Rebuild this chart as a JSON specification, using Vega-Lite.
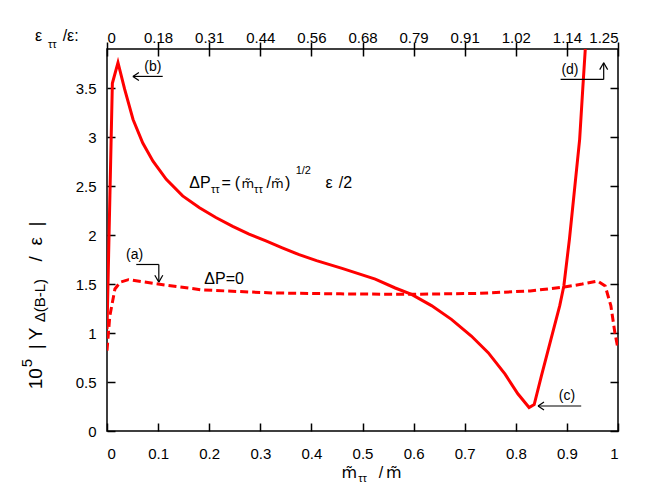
{
  "$schema": "https://vega.github.io/schema/vega-lite/v6.json",
  "width": 511,
  "height": 382,
  "autosize": {"type": "none"},
  "padding": {"left": 107, "top": 49, "right": 36, "bottom": 60},
  "background": "white",
  "config": {
    "view": {"stroke": "black", "strokeWidth": 1.5},
    "font": "Liberation Sans",
    "axis": {"grid": false, "domain": false, "tickColor": "black", "tickWidth": 1.5, "labelColor": "black", "labelFont": "Liberation Sans", "labelFontSize": 15, "title": null}
  },
  "datasets": {
    "dashed": [
      {"x": 0, "y": 0.82}, {"x": 0.0054, "y": 1.17}, {"x": 0.0155, "y": 1.45}, {"x": 0.026, "y": 1.52},
      {"x": 0.042, "y": 1.545}, {"x": 0.1, "y": 1.5}, {"x": 0.187, "y": 1.44}, {"x": 0.322, "y": 1.41},
      {"x": 0.457, "y": 1.4}, {"x": 0.592, "y": 1.395}, {"x": 0.727, "y": 1.405}, {"x": 0.828, "y": 1.43},
      {"x": 0.895, "y": 1.47}, {"x": 0.93, "y": 1.5}, {"x": 0.96, "y": 1.53}, {"x": 0.975, "y": 1.48},
      {"x": 0.986, "y": 1.28}, {"x": 0.994, "y": 1.0}, {"x": 1.0, "y": 0.84}
    ],
    "solid": [
      {"x": 0, "y": 1.04}, {"x": 0.0105, "y": 3.55}, {"x": 0.0215, "y": 3.76}, {"x": 0.0345, "y": 3.49},
      {"x": 0.051, "y": 3.18}, {"x": 0.07, "y": 2.94}, {"x": 0.09, "y": 2.755}, {"x": 0.116, "y": 2.57},
      {"x": 0.148, "y": 2.4}, {"x": 0.181, "y": 2.28}, {"x": 0.213, "y": 2.18}, {"x": 0.246, "y": 2.09},
      {"x": 0.278, "y": 2.01}, {"x": 0.311, "y": 1.94}, {"x": 0.343, "y": 1.87}, {"x": 0.376, "y": 1.8},
      {"x": 0.41, "y": 1.74}, {"x": 0.46, "y": 1.66}, {"x": 0.525, "y": 1.55}, {"x": 0.564, "y": 1.46},
      {"x": 0.596, "y": 1.395}, {"x": 0.635, "y": 1.28}, {"x": 0.674, "y": 1.14}, {"x": 0.713, "y": 0.97},
      {"x": 0.746, "y": 0.8}, {"x": 0.779, "y": 0.58}, {"x": 0.804, "y": 0.38}, {"x": 0.826, "y": 0.24},
      {"x": 0.836, "y": 0.27}, {"x": 0.85, "y": 0.56}, {"x": 0.869, "y": 0.94}, {"x": 0.886, "y": 1.28},
      {"x": 0.894, "y": 1.48}, {"x": 0.905, "y": 1.96}, {"x": 0.915, "y": 2.47}, {"x": 0.925, "y": 2.98},
      {"x": 0.931, "y": 3.49}, {"x": 0.936, "y": 3.9}, {"x": 0.9375, "y": 4.05}
    ],
    "arrows": [
      {"g": "b", "x": 0.0507, "y": 3.62}, {"g": "b", "x": 0.109, "y": 3.62},
      {"g": "b1", "x": 0.0507, "y": 3.62}, {"g": "b1", "x": 0.0624, "y": 3.661},
      {"g": "b2", "x": 0.0507, "y": 3.62}, {"g": "b2", "x": 0.0624, "y": 3.579},
      {"g": "a", "x": 0.0573, "y": 1.7}, {"g": "a", "x": 0.1014, "y": 1.7},
      {"g": "av", "x": 0.1014, "y": 1.7}, {"g": "av", "x": 0.1014, "y": 1.52},
      {"g": "a1", "x": 0.1014, "y": 1.52}, {"g": "a1", "x": 0.0936, "y": 1.59},
      {"g": "a2", "x": 0.1014, "y": 1.52}, {"g": "a2", "x": 0.1092, "y": 1.59},
      {"g": "c", "x": 0.8435, "y": 0.255}, {"g": "c", "x": 0.928, "y": 0.255},
      {"g": "c1", "x": 0.8435, "y": 0.255}, {"g": "c1", "x": 0.8552, "y": 0.296},
      {"g": "c2", "x": 0.8435, "y": 0.255}, {"g": "c2", "x": 0.8552, "y": 0.214},
      {"g": "d", "x": 0.8877, "y": 3.589}, {"g": "d", "x": 0.972, "y": 3.589},
      {"g": "dv", "x": 0.972, "y": 3.589}, {"g": "dv", "x": 0.972, "y": 3.759},
      {"g": "d1", "x": 0.972, "y": 3.759}, {"g": "d1", "x": 0.9642, "y": 3.689},
      {"g": "d2", "x": 0.972, "y": 3.759}, {"g": "d2", "x": 0.9798, "y": 3.689}
    ],
    "tags": [
      {"x": 0.054, "y": 1.8, "t": "(a)"}, {"x": 0.0897, "y": 3.72, "t": "(b)"},
      {"x": 0.9, "y": 0.357, "t": "(c)"}, {"x": 0.906, "y": 3.684, "t": "(d)"}
    ],
    "textMain": [
      {"x": 0.1904, "y": 1.497, "t": "ΔP=0"},
      {"x": 0.1612, "y": 2.484, "t": "ΔP"},
      {"x": 0.2242, "y": 2.484, "t": "="},
      {"x": 0.2499, "y": 2.484, "t": "("},
      {"x": 0.3119, "y": 2.484, "t": "/"},
      {"x": 0.3482, "y": 2.484, "t": ")"},
      {"x": 0.4277, "y": 2.484, "t": "ε"},
      {"x": 0.4536, "y": 2.484, "t": "/2"},
      {"x": -0.141, "y": 3.98, "t": "ε"},
      {"x": -0.0868, "y": 3.98, "t": "/ε:"},
      {"x": 0.5316, "y": -0.483, "t": "/"}
    ],
    "textSmall": [
      {"x": 0.2035, "y": 2.433, "t": "ττ"},
      {"x": 0.2879, "y": 2.433, "t": "ττ"},
      {"x": 0.3692, "y": 2.619, "t": "1/2"},
      {"x": -0.1156, "y": 3.915, "t": "ττ"},
      {"x": 0.4916, "y": -0.52, "t": "ττ"}
    ],
    "mFormula": [
      {"x": 0.2631, "y": 2.484, "t": "m̃"},
      {"x": 0.321, "y": 2.484, "t": "m̃"}
    ],
    "mTitle": [
      {"x": 0.4589, "y": -0.483, "t": "m̃"},
      {"x": 0.5462, "y": -0.483, "t": "m̃"}
    ],
    "yTitleMain": [
      {"x": -0.1273, "y": 0.425, "t": "10"},
      {"x": -0.1273, "y": 0.834, "t": "|"},
      {"x": -0.1273, "y": 0.9255, "t": "Y"},
      {"x": -0.1273, "y": 1.731, "t": "/"},
      {"x": -0.1273, "y": 1.895, "t": "ε"},
      {"x": -0.1273, "y": 2.089, "t": "|"}
    ],
    "yTitleSmall": [
      {"x": -0.1468, "y": 0.65, "t": "5"},
      {"x": -0.1214, "y": 1.109, "t": "Δ(B-L)"}
    ]
  },
  "resolve": {"axis": {"x": "independent", "y": "independent"}},
  "layer": [
    {
      "data": {"name": "dashed"},
      "mark": {"type": "line", "color": "#ff0000", "strokeWidth": 3, "strokeDash": [8, 4], "clip": true},
      "encoding": {
        "x": {"field": "x", "type": "quantitative", "scale": {"domain": [0, 1], "nice": false, "zero": false},
          "axis": {"orient": "bottom", "values": [0, 0.1, 0.2, 0.3, 0.4, 0.5, 0.6, 0.7, 0.8, 0.9, 1], "format": "~g", "tickSize": -8, "labelPadding": 23}},
        "y": {"field": "y", "type": "quantitative", "scale": {"domain": [0, 3.9], "nice": false, "zero": false},
          "axis": {"orient": "left", "values": [0, 0.5, 1, 1.5, 2, 2.5, 3, 3.5], "format": "~g", "tickSize": -8, "labelPadding": 19}}
      }
    },
    {
      "data": {"name": "solid"},
      "mark": {"type": "line", "color": "#ff0000", "strokeWidth": 3, "clip": true},
      "encoding": {
        "x": {"field": "x", "type": "quantitative", "scale": {"domain": [0, 1], "nice": false, "zero": false},
          "axis": {"orient": "top", "values": [0, 0.1, 0.2, 0.3, 0.4, 0.5, 0.6, 0.7, 0.8, 0.9, 1], "offset": -7, "tickSize": 14, "labelPadding": -3,
            "labelExpr": "['0','0.18','0.31','0.44','0.56','0.68','0.79','0.91','1.02','1.14','1.25'][round(datum.value*10)]"}},
        "y": {"field": "y", "type": "quantitative", "scale": {"domain": [0, 3.9], "nice": false, "zero": false},
          "axis": {"orient": "right", "values": [0, 0.5, 1, 1.5, 2, 2.5, 3, 3.5], "tickSize": -8, "labels": false}}
      }
    },
    {
      "data": {"name": "arrows"},
      "mark": {"type": "line", "color": "black", "strokeWidth": 1.2},
      "encoding": {
        "x": {"field": "x", "type": "quantitative", "scale": {"domain": [0, 1], "nice": false, "zero": false}, "axis": null},
        "y": {"field": "y", "type": "quantitative", "scale": {"domain": [0, 3.9], "nice": false, "zero": false}, "axis": null},
        "detail": {"field": "g", "type": "nominal"}
      }
    },
    {
      "data": {"name": "tags"},
      "mark": {"type": "text", "font": "Liberation Sans", "fontSize": 14, "align": "center", "baseline": "middle", "color": "black"},
      "encoding": {
        "x": {"field": "x", "type": "quantitative", "scale": {"domain": [0, 1], "nice": false, "zero": false}, "axis": null},
        "y": {"field": "y", "type": "quantitative", "scale": {"domain": [0, 3.9], "nice": false, "zero": false}, "axis": null},
        "text": {"field": "t"}
      }
    },
    {
      "data": {"name": "textMain"},
      "mark": {"type": "text", "font": "Liberation Sans", "fontSize": 16, "align": "left", "baseline": "alphabetic", "color": "black"},
      "encoding": {
        "x": {"field": "x", "type": "quantitative", "scale": {"domain": [0, 1], "nice": false, "zero": false}, "axis": null},
        "y": {"field": "y", "type": "quantitative", "scale": {"domain": [0, 3.9], "nice": false, "zero": false}, "axis": null},
        "text": {"field": "t"}
      }
    },
    {
      "data": {"name": "textSmall"},
      "mark": {"type": "text", "font": "Liberation Sans", "fontSize": 11, "align": "left", "baseline": "alphabetic", "color": "black"},
      "encoding": {
        "x": {"field": "x", "type": "quantitative", "scale": {"domain": [0, 1], "nice": false, "zero": false}, "axis": null},
        "y": {"field": "y", "type": "quantitative", "scale": {"domain": [0, 3.9], "nice": false, "zero": false}, "axis": null},
        "text": {"field": "t"}
      }
    },
    {
      "data": {"name": "mFormula"},
      "mark": {"type": "text", "font": "DejaVu Sans", "fontSize": 13, "align": "left", "baseline": "alphabetic", "color": "black"},
      "encoding": {
        "x": {"field": "x", "type": "quantitative", "scale": {"domain": [0, 1], "nice": false, "zero": false}, "axis": null},
        "y": {"field": "y", "type": "quantitative", "scale": {"domain": [0, 3.9], "nice": false, "zero": false}, "axis": null},
        "text": {"field": "t"}
      }
    },
    {
      "data": {"name": "mTitle"},
      "mark": {"type": "text", "font": "DejaVu Sans", "fontSize": 16, "align": "left", "baseline": "alphabetic", "color": "black"},
      "encoding": {
        "x": {"field": "x", "type": "quantitative", "scale": {"domain": [0, 1], "nice": false, "zero": false}, "axis": null},
        "y": {"field": "y", "type": "quantitative", "scale": {"domain": [0, 3.9], "nice": false, "zero": false}, "axis": null},
        "text": {"field": "t"}
      }
    },
    {
      "data": {"name": "yTitleMain"},
      "mark": {"type": "text", "font": "Liberation Sans", "fontSize": 19, "angle": 270, "align": "left", "baseline": "alphabetic", "color": "black"},
      "encoding": {
        "x": {"field": "x", "type": "quantitative", "scale": {"domain": [0, 1], "nice": false, "zero": false}, "axis": null},
        "y": {"field": "y", "type": "quantitative", "scale": {"domain": [0, 3.9], "nice": false, "zero": false}, "axis": null},
        "text": {"field": "t"}
      }
    },
    {
      "data": {"name": "yTitleSmall"},
      "mark": {"type": "text", "font": "Liberation Sans", "fontSize": 15, "angle": 270, "align": "left", "baseline": "alphabetic", "color": "black"},
      "encoding": {
        "x": {"field": "x", "type": "quantitative", "scale": {"domain": [0, 1], "nice": false, "zero": false}, "axis": null},
        "y": {"field": "y", "type": "quantitative", "scale": {"domain": [0, 3.9], "nice": false, "zero": false}, "axis": null},
        "text": {"field": "t"}
      }
    }
  ]
}
